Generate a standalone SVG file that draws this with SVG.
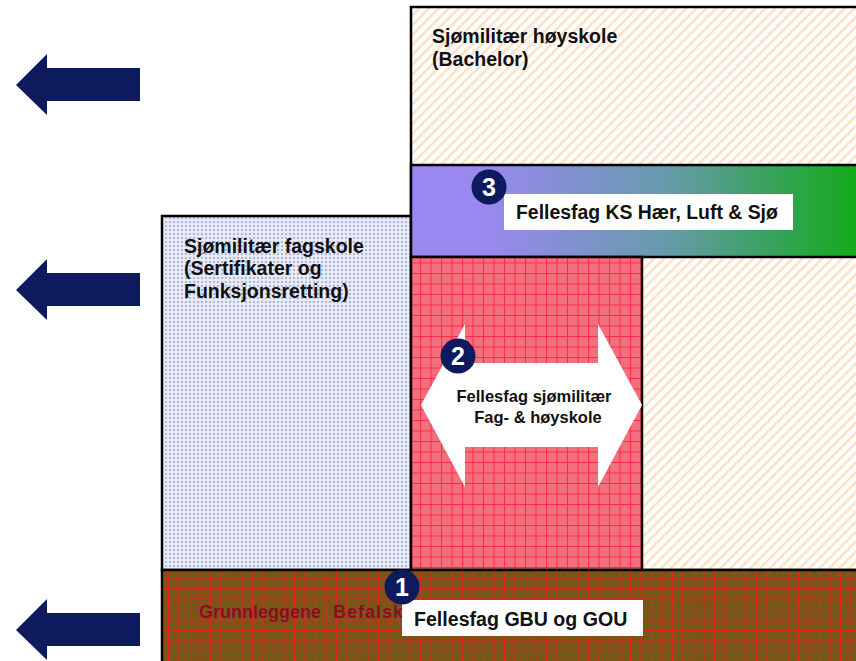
<svg xmlns="http://www.w3.org/2000/svg" width="856" height="661" viewBox="0 0 856 661">
<style>
.box{stroke:#000;stroke-width:2.5}
.t{font-family:"Liberation Sans",Arial,sans-serif;font-weight:bold;fill:#111}
.num{font-family:"Liberation Sans",Arial,sans-serif;font-weight:bold;fill:#fff;font-size:25px;text-anchor:middle}
.dot{fill:#0d1a5e}
.nav{fill:#0d1a5e}
</style>
<defs>
<pattern id="hatch" width="7" height="7" patternUnits="userSpaceOnUse" patternTransform="rotate(45)">
<rect width="7" height="7" fill="#fff"/>
<rect width="2.5" height="7" fill="#fde0c4"/>
</pattern>
<pattern id="dots" width="4" height="4" patternUnits="userSpaceOnUse">
<rect width="4" height="4" fill="#e8ebf6"/>
<circle cx="2" cy="2" r="1" fill="#9aa4d0"/>
</pattern>
<pattern id="redgrid" width="10.5" height="10.5" patternUnits="userSpaceOnUse">
<rect width="10.5" height="10.5" fill="#f2707e"/>
<path d="M0 0.5H10.5M0.5 0V10.5" stroke="#ff2a48" stroke-width="1.1"/>
</pattern>
<pattern id="browngrid" width="10.5" height="10.5" patternUnits="userSpaceOnUse">
<rect width="10.5" height="10.5" fill="#7a5616"/>
<path d="M0 0.5H10.5M0.5 0V10.5" stroke="#e8202a" stroke-width="1"/>
</pattern>
<linearGradient id="grad" x1="0" y1="0" x2="1" y2="0">
<stop offset="0" stop-color="#9a88f0"/>
<stop offset="0.15" stop-color="#9a88f0"/>
<stop offset="0.55" stop-color="#6a9ab0"/>
<stop offset="1" stop-color="#10aa18"/>
</linearGradient>
<path id="larrow" d="M16 0 L47 -31 L47 -17 L140 -17 L140 16 L47 16 L47 30 Z"/>
</defs>

<g id="hoyskole">
<rect class="box" x="411" y="7" width="450" height="563" fill="url(#hatch)"/>
<text class="t" x="432" y="43" font-size="19.5">Sjømilitær høyskole</text>
<text class="t" x="432" y="66" font-size="19.5">(Bachelor)</text>
</g>

<g id="fagskole">
<rect class="box" x="162" y="216" width="249" height="354" fill="url(#dots)"/>
<text class="t" x="184" y="253" font-size="19.5">Sjømilitær fagskole</text>
<text class="t" x="184" y="275" font-size="19.5">(Sertifikater og</text>
<text class="t" x="184" y="298" font-size="19.5">Funksjonsretting)</text>
</g>

<g id="fellesfag-ks">
<rect class="box" x="411" y="165" width="450" height="92" fill="url(#grad)"/>
<rect x="504" y="194" width="289" height="36" fill="#fff"/>
<text class="t" x="516" y="219" font-size="19.4">Fellesfag KS Hær, Luft &amp; Sjø</text>
<circle class="dot" cx="489" cy="187" r="17.5"/>
<text class="num" x="489" y="196">3</text>
</g>

<g id="fellesfag-sjo">
<rect class="box" x="411" y="257" width="231" height="313" fill="url(#redgrid)"/>
<path d="M421 405 L465 324 L465 363 L598 363 L598 324 L642 405 L598 487 L598 447 L465 447 L465 487 Z" fill="#fff"/>
<text class="t" x="534" y="402" font-size="16.5" text-anchor="middle">Fellesfag sjømilitær</text>
<text class="t" x="538" y="423" font-size="16.5" text-anchor="middle">Fag- &amp; høyskole</text>
<circle class="dot" cx="458" cy="356" r="17.5"/>
<text class="num" x="458" y="365">2</text>
</g>

<g id="grunnleggende">
<rect class="box" x="162" y="570" width="699" height="95" fill="url(#browngrid)"/>
<text x="199" y="618" font-size="18" font-family="Liberation Sans,Arial,sans-serif" font-weight="bold" fill="#8e0c22">Grunnleggene <tspan x="333" letter-spacing="1">Befalsk</tspan></text>
<rect x="402" y="600" width="241" height="36" fill="#fff"/>
<text class="t" x="414" y="626" font-size="19.6">Fellesfag GBU og GOU</text>
<circle class="dot" cx="402" cy="587" r="17.5"/>
<text class="num" x="402" y="596">1</text>
</g>

<g id="connectors">
<use href="#larrow" class="nav" y="85"/>
<use href="#larrow" class="nav" y="290"/>
<use href="#larrow" class="nav" y="630"/>
</g>
</svg>
